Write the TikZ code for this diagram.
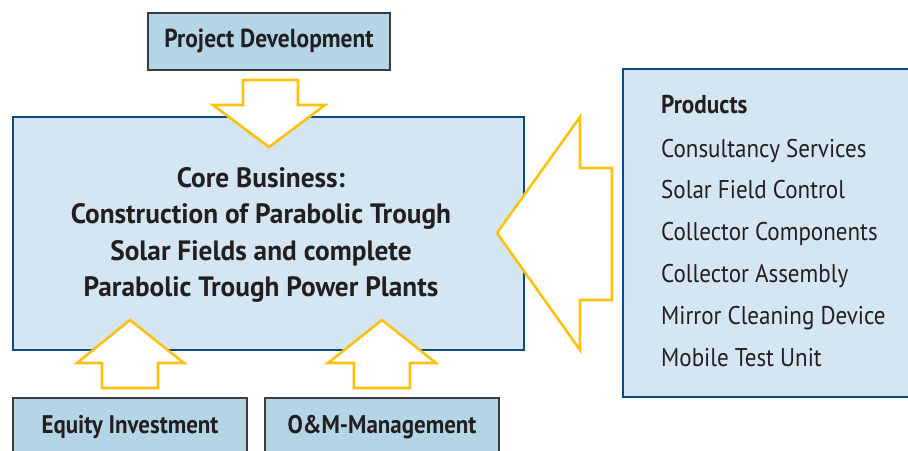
\documentclass[tikz,border=0pt]{standalone}
\usepackage{fontspec}
\setmainfont{PT Sans}[FakeStretch=0.9]
\newfontfamily\corefont{PT Sans}[FakeStretch=0.975]
\definecolor{gold}{RGB}{253,194,15}
\definecolor{corefill}{RGB}{212,230,241}
\definecolor{boxfill}{RGB}{180,213,229}
\definecolor{navy}{RGB}{10,74,135}
\definecolor{ink}{RGB}{35,31,32}
\tikzset{
  smallbox/.style={draw={rgb,255:red,60;green,60;blue,60}, line width=1.2pt, fill=boxfill, text=ink,
    font=\bfseries\fontsize{25.5}{30}\selectfont, inner sep=0pt},
  bigbox/.style={draw=navy, line width=2.8pt, fill=corefill, inner sep=0pt},
  bigarrow/.style={draw=gold, line width=2.6pt, fill=white, line join=miter},
  prodhead/.style={anchor=base west, text=ink, font=\bfseries\fontsize{25.8}{28}\selectfont, inner sep=0pt},
  proditem/.style={anchor=base west, text=ink, font=\fontsize{25.6}{28}\selectfont, inner sep=0pt}
}
\begin{document}
\begin{tikzpicture}[x=1pt,y=-1pt]
\useasboundingbox (0,0) rectangle (908,450);
\clip (0,0) rectangle (908,450);
% boxes
\node[smallbox, minimum width=242pt, minimum height=57pt, text height=17pt, text depth=6pt, font=\bfseries\fontsize{26}{30}\selectfont] (pd) at (269,41.5) {Project Development};
\node[bigbox, minimum width=511pt, minimum height=233pt] (core) at (268.5,233.5) {};
\node[text=ink, align=center, font=\corefont\bfseries\fontsize{28}{36.5}\selectfont, inner sep=0pt] (coretext) at (261,235) {Core Business:\\Construction of Parabolic Trough\\Solar Fields and complete\\Parabolic Trough Power Plants};
\node[bigbox, minimum width=330pt, minimum height=328pt] (prod) at (788,233) {};
\node[smallbox, minimum width=234pt, minimum height=72pt, text height=17pt, text depth=19pt] (eq) at (130,434) {Equity Investment};
\node[smallbox, minimum width=234pt, minimum height=72pt, text height=17pt, text depth=19pt] (om) at (382,434) {O\&M-Management};
% product list
\node[prodhead] (p0) at (661,113) {Products};
\node[proditem] (p1) at (661,157) {Consultancy Services};
\node[proditem] (p2) at (661,198.5) {Solar Field Control};
\node[proditem] (p3) at (661,240.5) {Collector Components};
\node[proditem] (p4) at (661,282) {Collector Assembly};
\node[proditem] (p5) at (661,324) {Mirror Cleaning Device};
\node[proditem] (p6) at (661,366) {Mobile Test Unit};
% arrows
\draw[bigarrow] (243,80) -- (298,80) -- (298,105) -- (325,105) -- (269,147) -- (213,105) -- (243,105) -- cycle;
\draw[bigarrow] (102,388) -- (158,388) -- (158,363) -- (184,363) -- (130,320) -- (77,363) -- (102,363) -- cycle;
\draw[bigarrow] (354,388) -- (410,388) -- (410,363) -- (436,363) -- (382,320) -- (328,363) -- (354,363) -- cycle;
\draw[bigarrow] (612,168) -- (612,300) -- (580,300) -- (580,350) -- (497,233) -- (580,117) -- (580,168) -- cycle;
\end{tikzpicture}
\end{document}
